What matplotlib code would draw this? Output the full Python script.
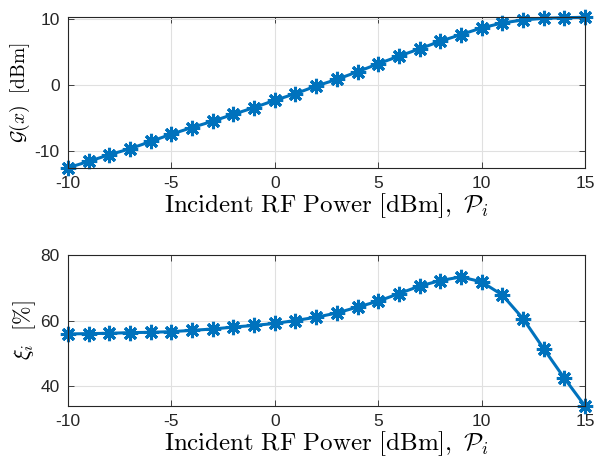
import matplotlib
matplotlib.use('Agg')
import matplotlib.pyplot as plt

p_in = list(range(-10, 16))
gain_dbm = [-12.47, -11.5, -10.5, -9.6, -8.5, -7.4, -6.4, -5.45, -4.4, -3.4, -2.3, -1.3,
            -0.15, 0.85, 2.0, 3.2, 4.35, 5.45, 6.6, 7.6, 8.6, 9.35, 9.8, 10.05, 10.15, 10.2]
efficiency = [55.9, 56.0, 56.1, 56.3, 56.4, 56.6, 57.0, 57.4, 58.0, 58.5, 59.1, 60.0,
              61.0, 62.3, 64.1, 65.9, 68.2, 70.5, 72.2, 73.3, 71.8, 67.8, 60.6, 51.4, 42.4, 33.9]
xticks = [-10, -5, 0, 5, 10, 15]

plt.rcParams.update({'font.family': 'Liberation Sans', 'font.size': 12.5,
                     'mathtext.fontset': 'cm', 'axes.unicode_minus': False})

fig = plt.figure(figsize=(5.96, 4.62), dpi=100)
ax1 = fig.add_axes([68 / 596, 1 - 168 / 462, 517 / 596, 151 / 462])
ax2 = fig.add_axes([68 / 596, 1 - 406 / 462, 517 / 596, 151 / 462])

line_kw = dict(color='#0072BD', linewidth=2.2, marker=(8, 2, 0), markersize=11,
               markeredgewidth=2.2)

ax1.plot(p_in, gain_dbm, **line_kw)
ax1.set_ylim(-12.5, 10.25)
ax1.set_yticks([-10, 0, 10])
ax1.set_ylabel(r'$\mathcal{G}(x)\ \ \mathrm{[dBm]}$', fontsize=14, labelpad=2)

ax2.plot(p_in, efficiency, **line_kw)
ax2.set_ylim(33.9, 80)
ax2.set_yticks([40, 60, 80])
ax2.set_ylabel(r'$\xi_i\ \ [\%]$', fontsize=16, labelpad=2)

for ax in (ax1, ax2):
    ax.set_xlim(-10, 15)
    ax.set_xticks(xticks)
    ax.set_xlabel(r'$\mathrm{Incident\ RF\ Power\ [dBm]},\ \mathcal{P}_i$', fontsize=18, labelpad=0)
    ax.grid(True, color='#e0e0e0', linewidth=0.8)
    ax.set_axisbelow(True)
    ax.tick_params(direction='in', top=True, right=True, length=4, width=0.6,
                   colors='#262626', pad=6)
    for s in ax.spines.values():
        s.set_linewidth(0.8)
        s.set_color('#262626')
    for m in ax.lines:
        m.set_clip_on(False)

fig.savefig('out.png', dpi=100)
